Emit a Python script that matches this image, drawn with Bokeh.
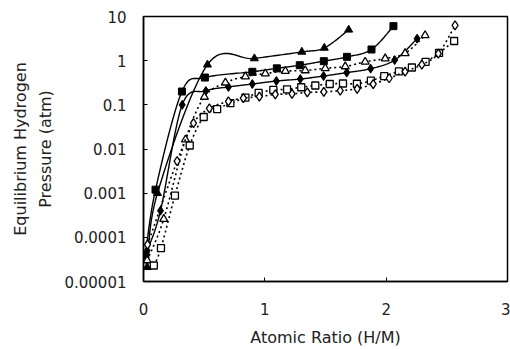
import numpy as np
from bokeh.plotting import figure
from bokeh.models import Range1d, FixedTicker, CustomJSTickFormatter
from bokeh.embed import file_html
from bokeh.resources import INLINE

# ---- data ----
a_x = [0.030, 0.115, 0.527, 0.914, 1.305, 1.490, 1.691]
a_y = [2.1e-5, 1.0e-3, 0.81, 1.12, 1.58, 1.94, 5.0]

b_x = [0.016, 0.099, 0.317, 0.506, 0.897, 1.099, 1.288, 1.486, 1.677, 1.879, 2.060]
b_y = [4.0e-5, 1.2e-3, 0.20, 0.415, 0.56, 0.67, 0.79, 0.975, 1.22, 1.79, 6.05]

c_x = [0.030, 0.140, 0.319, 0.514, 0.700, 0.897, 1.095, 1.292, 1.484, 1.675, 1.872, 2.070, 2.255]
c_y = [5.0e-5, 4.0e-4, 0.10, 0.206, 0.254, 0.296, 0.346, 0.384, 0.449, 0.537, 0.66, 1.03, 3.15]

d_x = [0.030, 0.167, 0.346, 0.502, 0.675, 0.840, 1.004, 1.169, 1.333, 1.498, 1.663, 1.827, 1.992, 2.156, 2.321]
d_y = [3.0e-5, 2.6e-4, 0.0163, 0.151, 0.317, 0.437, 0.51, 0.58, 0.60, 0.67, 0.74, 0.94, 1.12, 1.47, 3.74]

e_x = [0.085, 0.144, 0.259, 0.381, 0.496, 0.607, 0.716, 0.840, 0.949, 1.070, 1.183, 1.300,
       1.416, 1.535, 1.644, 1.759, 1.874, 1.984, 2.105, 2.212, 2.325, 2.436, 2.560]
e_y = [2.3e-5, 5.7e-5, 8.8e-4, 0.012, 0.053, 0.080, 0.109, 0.146, 0.186, 0.217, 0.225, 0.25,
       0.274, 0.296, 0.304, 0.30, 0.352, 0.449, 0.57, 0.70, 0.94, 1.50, 2.79]

f_x = [0.033, 0.277, 0.412, 0.543, 0.700, 0.823, 0.955, 1.086, 1.224, 1.350, 1.486, 1.621,
       1.761, 1.893, 2.025, 2.156, 2.294, 2.430, 2.568]
f_y = [6.8e-5, 5.3e-3, 0.0384, 0.083, 0.12, 0.142, 0.153, 0.172, 0.177, 0.191, 0.196, 0.21,
       0.231, 0.296, 0.40, 0.566, 0.81, 1.45, 6.28]

x_ticks = [0, 1, 2, 3]
y_ticks = [1e-5, 1e-4, 1e-3, 1e-2, 1e-1, 1, 10]

SX, SY = 121.5, 44.5  # pixel scale used for spline smoothing


def smooth(xs, ys, n=24):
    px = np.array(xs) * SX
    py = np.log10(np.array(ys)) * SY
    P = np.column_stack([px, py])
    P = np.vstack([P[0], P, P[-1]])
    out = []
    t = np.linspace(0, 1, n)[:, None]
    for i in range(1, len(P) - 2):
        p0, p1, p2, p3 = P[i - 1], P[i], P[i + 1], P[i + 2]
        seg = 0.5 * (2 * p1 + (-p0 + p2) * t + (2 * p0 - 5 * p1 + 4 * p2 - p3) * t ** 2
                     + (-p0 + 3 * p1 - 3 * p2 + p3) * t ** 3)
        out.append(seg if i == 1 else seg[1:])
    S = np.vstack(out)
    return S[:, 0] / SX, 10 ** (S[:, 1] / SY)


p = figure(width=510, height=349, output_backend="svg", toolbar_location=None,
           y_axis_type="log", x_range=Range1d(0, 3), y_range=Range1d(1e-5, 10),
           min_border_left=143, min_border_right=3, min_border_top=16, min_border_bottom=66)
p.background_fill_color = "white"
p.border_fill_color = "white"
p.outline_line_color = "black"
p.outline_line_width = 1.5
p.xgrid.visible = False
p.ygrid.visible = False

FONT = "DejaVu Sans"
for ax in (p.xaxis[0], p.yaxis[0]):
    ax.axis_line_color = "black"
    ax.axis_line_width = 1.5
    ax.major_tick_in = 4
    ax.major_tick_out = 0
    ax.minor_tick_line_color = None
    ax.major_tick_line_color = "black"
    ax.major_label_text_font = FONT
    ax.major_label_text_font_size = "15px"
    ax.major_label_text_color = "#222222"
    ax.axis_label_text_font = FONT
    ax.axis_label_text_font_size = "16px"
    ax.axis_label_text_font_style = "normal"
    ax.axis_label_text_color = "#222222"

p.xaxis.ticker = FixedTicker(ticks=x_ticks)
p.xaxis.major_label_standoff = 21
p.xaxis.major_label_text_line_height = 0.9
p.xaxis.axis_label = "Atomic Ratio (H/M)"
p.xaxis.axis_label_standoff = 10
p.xaxis.axis_label_text_line_height = 0.9

p.yaxis.ticker = FixedTicker(ticks=y_ticks)
p.yaxis.formatter = CustomJSTickFormatter(code="""
    if (tick >= 1) { return tick.toFixed(0); }
    return tick.toFixed(Math.round(-Math.log10(tick)));
""")
p.yaxis.major_label_standoff = 17
p.yaxis.axis_label = "Equilibrium Hydrogen\nPressure (atm)"
p.yaxis.axis_label_standoff = 6
p.yaxis.axis_label_text_line_height = 1.35

# solid series with filled markers
for xs, ys, marker, size in [(a_x, a_y, "triangle", 8), (b_x, b_y, "square", 7),
                              (c_x, c_y, "diamond", 9)]:
    lx, ly = smooth(xs, ys)
    p.line(lx, ly, line_color="black", line_width=1.4)
    p.scatter(xs, ys, marker=marker, size=size, fill_color="black", line_color="black")

# dotted series with open markers
for xs, ys, marker, size in [(d_x, d_y, "triangle", 8), (e_x, e_y, "square", 7),
                              (f_x, f_y, "diamond", 9)]:
    lx, ly = smooth(xs, ys)
    p.line(lx, ly, line_color="black", line_width=1.6, line_dash="2 3")
    p.scatter(xs, ys, marker=marker, size=size, fill_color="white", line_color="black",
              line_width=1.3)

open("out.html", "w").write(file_html(p, INLINE))
